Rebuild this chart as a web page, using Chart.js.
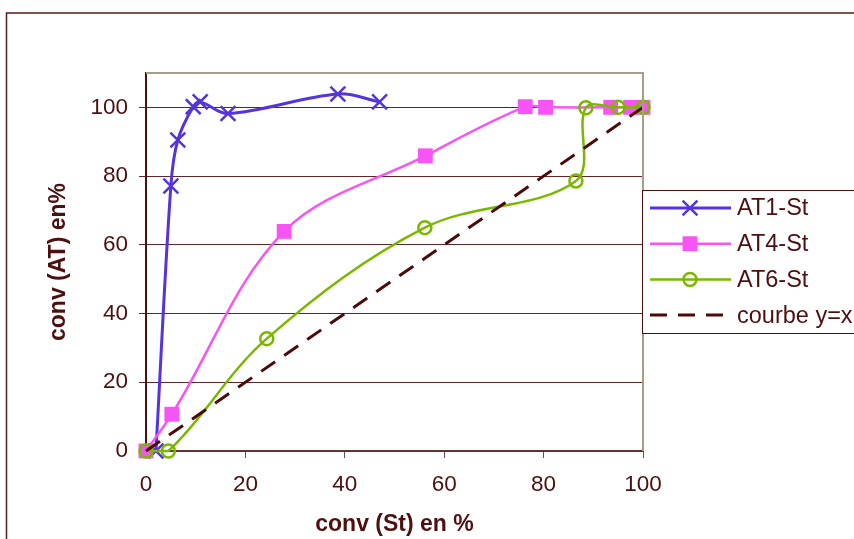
<!DOCTYPE html>
<html>
<head>
<meta charset="utf-8">
<script src="https://cdn.jsdelivr.net/npm/chart.js@4/dist/chart.umd.min.js"></script>
<style>
    html, body { margin: 0; padding: 0; background: #fff; }
    #wrap { width: 854px; height: 539px; }
</style>
</head>
<body>
<div id="wrap"><canvas id="convChart" width="854" height="539"></canvas></div>
<script>
// values (conv St %, conv AT %)
const at1X = [2, 5.0, 6.4, 9.5, 10.9, 16.5, 38.6, 47.0];
const at1Y = [0, 77.1, 90.5, 100.2, 101.6, 98.2, 103.9, 101.6];

const at4X = [0, 5.2, 27.8, 56.2, 76.3, 80.4, 93.5, 97.5, 100];
const at4Y = [0, 10.7, 63.9, 85.9, 100.2, 100, 100, 100, 100];

const at6X = [0, 4.5, 24.3, 56.1, 86.5, 88.5, 95.0, 100];
const at6Y = [0, 0, 32.7, 65.0, 78.6, 99.9, 100, 100];

const refX = [0, 100];
const refY = [0, 100];

const seriesLabels = ['AT1-St', 'AT4-St', 'AT6-St', 'courbe y=x'];
const xTicks = [0, 20, 40, 60, 80, 100];
const yTicks = [0, 20, 40, 60, 80, 100];

const textColor = '#4d0f0f';
const gridColor = '#5e2626';
const fontFamily = '"Liberation Sans", Arial, sans-serif';

const toPoints = (xs, ys) => xs.map((x, i) => ({ x, y: ys[i] }));

const frameAndLegend = {
    id: 'frameAndLegend',
    beforeDraw(chart) {
        const { ctx } = chart;
        ctx.save();
        ctx.strokeStyle = '#5a1a1a';
        ctx.lineWidth = 1.5;
        ctx.strokeRect(6.5, 13, 900, 600);
        ctx.restore();
    },
    afterDatasetsDraw(chart) {
        const { ctx, chartArea: a } = chart;
        ctx.save();
        ctx.strokeStyle = '#a69e86';
        ctx.lineWidth = 2;
        ctx.beginPath();
        ctx.moveTo(a.left, a.top);
        ctx.lineTo(a.right, a.top);
        ctx.lineTo(a.right, a.bottom);
        ctx.stroke();
        ctx.restore();
    },
    afterDraw(chart) {
        const { ctx } = chart;
        ctx.save();
        ctx.fillStyle = '#fff';
        ctx.fillRect(643, 190, 230, 143);
        ctx.strokeStyle = textColor;
        ctx.lineWidth = 1;
        ctx.strokeRect(642.5, 190.5, 240, 143);

        chart.data.datasets.forEach((ds, i) => {
            const y = 208 + i * 35.7;
            ctx.strokeStyle = ds.borderColor;
            ctx.lineWidth = ds.borderWidth;
            ctx.setLineDash(ds.borderDash || []);
            ctx.beginPath();
            ctx.moveTo(650, y);
            ctx.lineTo(731, y);
            ctx.stroke();
            ctx.setLineDash([]);

            if (ds.pointRadius > 0) {
                ctx.fillStyle = ds.pointBackgroundColor;
                ctx.strokeStyle = ds.pointBorderColor;
                ctx.lineWidth = ds.pointBorderWidth;
                Chart.helpers.drawPoint(ctx, {
                    pointStyle: ds.pointStyle,
                    radius: ds.pointRadius,
                    rotation: 0,
                    borderWidth: ds.pointBorderWidth,
                }, 690, y);
            }

            ctx.fillStyle = textColor;
            ctx.font = `23.5px ${fontFamily}`;
            ctx.textBaseline = 'middle';
            ctx.textAlign = 'left';
            ctx.fillText(ds.label, 737, y + 1);
        });
        ctx.restore();
    },
};

new Chart(document.getElementById('convChart'), {
    type: 'scatter',
    data: {
        datasets: [
            {
                label: seriesLabels[0],
                data: toPoints(at1X, at1Y),
                showLine: true,
                borderColor: '#5533dd',
                borderWidth: 3,
                tension: 0.35,
                pointStyle: 'crossRot',
                pointRadius: 10.5,
                pointBorderWidth: 2.5,
                pointBorderColor: '#5533dd',
                pointBackgroundColor: '#5533dd',
                clip: false,
                order: 4,
            },
            {
                label: seriesLabels[1],
                data: toPoints(at4X, at4Y),
                showLine: true,
                borderColor: '#f754f5',
                borderWidth: 2.5,
                tension: 0.35,
                pointStyle: 'rect',
                pointRadius: 10.5,
                pointBorderWidth: 0,
                pointBorderColor: '#f754f5',
                pointBackgroundColor: '#f754f5',
                clip: false,
                order: 3,
            },
            {
                label: seriesLabels[2],
                data: toPoints(at6X, at6Y),
                showLine: true,
                borderColor: '#7ab800',
                borderWidth: 2.5,
                tension: 0.35,
                pointStyle: 'circle',
                pointRadius: 6.5,
                pointBorderWidth: 2.5,
                pointBorderColor: '#7ab800',
                pointBackgroundColor: 'rgba(0,0,0,0)',
                clip: false,
                order: 2,
            },
            {
                label: seriesLabels[3],
                data: toPoints(refX, refY),
                showLine: true,
                borderColor: '#4d0a0a',
                borderWidth: 3,
                borderDash: [17, 11],
                tension: 0,
                pointRadius: 0,
                clip: false,
                order: 1,
            },
        ],
    },
    options: {
        responsive: false,
        animation: false,
        layout: { padding: { left: 0, top: 73, right: 211, bottom: 0 } },
        plugins: {
            legend: { display: false },
            tooltip: { enabled: false },
        },
        scales: {
            x: {
                type: 'linear',
                min: 0,
                max: 100,
                afterFit: (scale) => { scale.height = 88; },
                afterBuildTicks: (scale) => { scale.ticks = xTicks.map((v) => ({ value: v })); },
                grid: { drawOnChartArea: false, drawTicks: true, tickLength: 7, color: '#7a4a4a' },
                border: { display: true, color: '#6a3030', width: 2 },
                ticks: { color: textColor, padding: 13, font: { family: fontFamily, size: 22.5 } },
                title: {
                    display: true,
                    text: 'conv (St) en %',
                    color: textColor,
                    padding: { top: 0, bottom: 1 },
                    font: { family: fontFamily, size: 23, weight: 'bold' },
                },
            },
            y: {
                type: 'linear',
                min: 0,
                max: 110,
                afterFit: (scale) => { scale.width = 146; },
                afterBuildTicks: (scale) => { scale.ticks = yTicks.map((v) => ({ value: v })); },
                grid: { drawOnChartArea: true, drawTicks: true, tickLength: 7, color: gridColor, lineWidth: 1 },
                border: { display: true, color: '#4d0f0f', width: 2 },
                ticks: { color: textColor, padding: 11, font: { family: fontFamily, size: 22.5 } },
                title: {
                    display: true,
                    text: 'conv (AT) en%',
                    color: textColor,
                    padding: { top: 45, bottom: 0 },
                    font: { family: fontFamily, size: 23, weight: 'bold' },
                },
            },
        },
    },
    plugins: [frameAndLegend],
});
</script>
</body>
</html>
